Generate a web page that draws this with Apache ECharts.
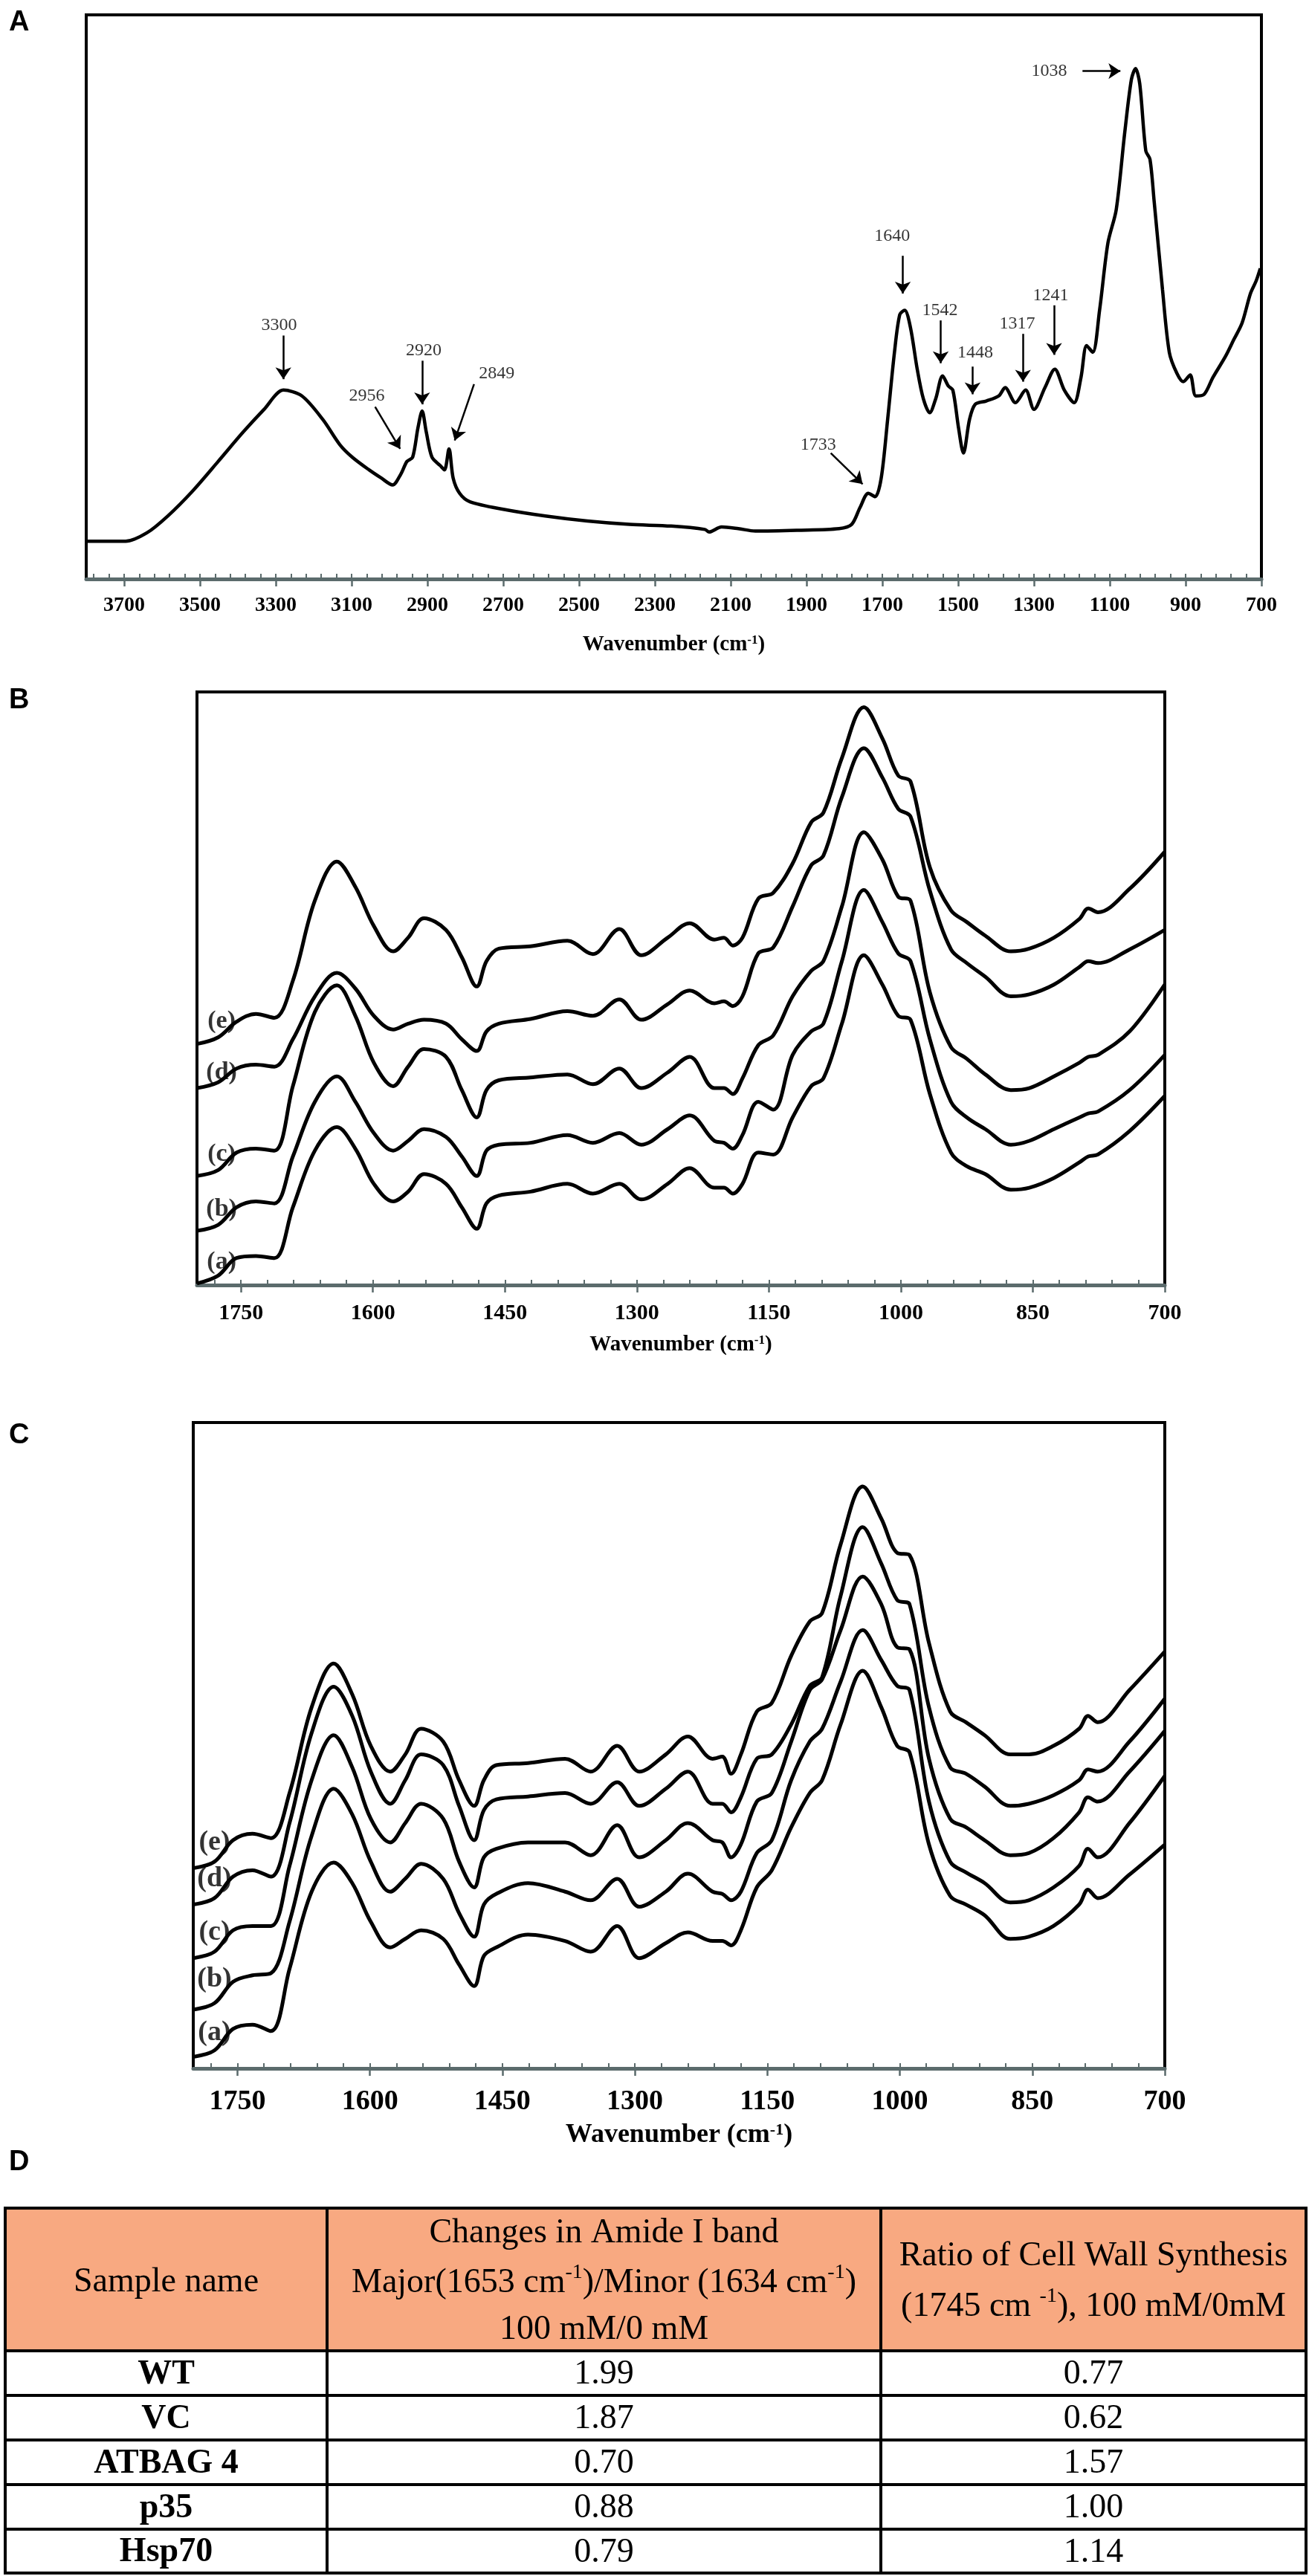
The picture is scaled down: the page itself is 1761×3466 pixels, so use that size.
<!DOCTYPE html>
<html><head><meta charset="utf-8">
<script src="https://cdn.jsdelivr.net/npm/echarts@6/dist/echarts.min.js"></script>
<style>html,body{margin:0;padding:0;background:#fff}#chart{width:1761px;height:3466px}</style>
</head><body><div id="chart"></div>
<script>
// ---------- Panel A: full FTIR spectrum ----------
const wnA = [3800,3696,3640,3585,3519,3452,3386,3331,3280,3231,
  3176,3131,3098,3054,3021,2992,2970,2954,2939,2925,
  2914,2903,2888,2866,2855,2843,2832,2815,2788,2700,
  2589,2478,2367,2257,2168,2157,2124,2080,2035,1925,
  1814,1781,1759,1737,1719,1703,1686,1668,1654,1641,
  1626,1608,1592,1575,1559,1541,1526,1514,1499,1486,
  1470,1455,1426,1393,1376,1349,1322,1300,1271,1245,
  1220,1194,1176,1161,1145,1127,1105,1083,1061,1043,
  1032,1021,1005,994,983,961,943,923,906,888,
  873,851,828,795,773,751,729,714,703];
const absA = [45,45,55,75,105,140,175,202,225,218,
  190,160,145,130,120,112,125,140,145,180,
  200,175,145,135,130,155,120,102,92,83,
  75,69,65,63,59,56,62,60,57,58,
  60,65,85,102,98,120,190,270,315,320,
  300,250,215,198,215,242,230,225,180,150,
  190,208,212,218,228,210,225,202,228,250,
  225,210,240,278,270,320,400,440,530,595,
  608,590,510,500,450,345,270,245,235,243,
  218,220,240,265,285,305,340,355,370];
const peakLabelsA = ['3300','2956','2920','2849','1733','1640','1542','1448','1317','1241','1038'];
const peakTextPosA = [[3291,302],[3060,218],[2910,272],[2717,245],[1869,160],[1674,408],[1548,320],[1455,269],[1344,304],[1256,338],[1260,605]];
const peakArrowA = [[3280,290,3280,238],[3038,205,2972,155],[2914,260,2914,208],[2777,232,2828,165],[1836,150,1752,113],
  [1646,385,1646,340],[1546,308,1546,257],[1462,253,1462,220],[1329,292,1329,235],[1247,326,1247,267],[1172,605,1072,605]];
const xTicksA = [3700,3500,3300,3100,2900,2700,2500,2300,2100,1900,1700,1500,1300,1100,900,700];

// ---------- Panels B and C: fingerprint region ----------
const wnBC = [1800,1776,1755,1733,1712,1691,1666,1641,1620,1599,
  1577,1560,1542,1517,1499,1482,1471,1457,1421,1379,
  1350,1320,1295,1265,1240,1212,1201,1191,1180,1162,
  1145,1123,1102,1088,1067,1042,1021,1003,989,967,
  943,925,904,875,854,826,797,787,776,740,700];
const absB_a = [4,24,69,74,69,199,344,404,349,259,214,239,284,259,199,144,209,229,239,259,234,259,219,259,299,249,249,234,259,339,334,429,509,529,669,844,769,689,679,489,339,304,284,244,249,274,314,329,334,394,484];
const absB_b = [139,154,199,214,209,329,469,534,469,389,344,369,399,379,329,279,344,359,364,384,364,389,359,399,434,369,364,349,384,469,449,589,649,669,829,1011,929,849,829,629,469,429,399,359,369,399,429,439,444,499,589];
const absB_c = [279,294,339,349,344,509,699,767,689,569,509,559,604,584,499,429,499,524,531,539,514,554,504,544,584,504,504,489,529,614,639,739,804,829,969,1159,1089,994,984,749,609,579,539,499,504,534,569,584,589,649,769];
const absB_d = [504,519,554,564,559,629,739,799,759,689,654,669,679,669,629,599,649,669,681,701,689,731,679,719,754,721,726,714,739,849,864,969,1074,1099,1249,1374,1299,1219,1199,1009,859,824,789,739,744,769,814,829,824,859,909];
const absB_e = [617,634,674,694,684,779,984,1084,1019,919,854,889,939,909,839,764,829,861,867,881,847,911,844,889,926,884,889,869,889,989,1004,1079,1184,1209,1349,1479,1399,1304,1289,1069,959,929,894,854,861,889,937,964,954,1014,1109];
const absC_a = [27,42,92,102,87,232,412,480,432,342,282,302,322,302,242,192,262,282,312,297,272,332,257,292,317,297,297,287,322,422,462,562,642,672,802,927,842,752,737,522,402,382,357,302,307,332,382,417,397,452,522];
const absC_b = [137,152,202,217,222,342,542,652,592,482,412,442,477,442,362,307,382,407,432,412,392,442,377,412,454,412,407,392,412,502,532,672,762,792,902,1022,952,892,882,622,482,457,432,387,392,422,472,512,492,572,682];
const absC_c = [257,272,322,332,332,472,672,777,702,582,527,572,617,582,482,422,492,512,527,527,497,567,492,532,572,532,527,492,522,622,642,762,882,907,1022,1147,1082,982,977,722,582,562,532,497,502,537,597,632,622,692,787];
const absC_d = [382,397,447,462,447,572,782,890,822,692,617,672,732,707,612,532,602,627,634,642,617,667,612,652,692,617,617,597,632,722,732,802,892,912,1102,1262,1177,1092,1082,842,702,687,657,612,617,637,672,697,692,762,862];
const absC_e = [467,482,532,547,537,642,842,944,872,752,692,732,792,762,672,612,672,707,712,722,692,752,692,732,774,722,727,687,732,832,852,962,1042,1062,1222,1357,1282,1202,1197,992,832,807,777,732,732,752,792,822,807,882,972];
const curveNames = ['(a)','(b)','(c)','(d)','(e)'];
const curveLabelPosB = [[1772,59],[1772,194],[1772,334],[1772,544],[1772,674]];
const curveLabelPosC = [[1776,82],[1776,207],[1776,317],[1776,442],[1776,527]];
const xTicksBC = [1750,1600,1450,1300,1150,1000,850,700];

// ---------- Panel D: table ----------
const headerSample = ['Sample name'];
const headerAmide = ['Changes in Amide I band','Major(1653 cm{s|-1})/Minor (1634 cm{s|-1})','100 mM/0 mM'];
const headerWall = ['Ratio of Cell Wall Synthesis','(1745 cm {s|-1}), 100 mM/0mM'];
const sampleNames = ['WT','VC','ATBAG 4','p35','Hsp70'];
const amideRatio = ['1.99','1.87','0.70','0.88','0.79'];
const cellWallRatio = ['0.77','0.62','1.57','1.00','1.14'];

// ---------- helpers ----------
const SERIF = 'Liberation Serif';
const AXIS_GRAY = '#5b6b6c';
function pairs(xs, ys){ return xs.map((x,i)=>[x, ys[i]]); }
function steps(from, to, step){ const out=[]; for(let v=from; v<=to; v+=step) out.push(v); return out; }

function mainX(gi, min, max, majors, labelSize, nameSize, margin, gap){
  return {gridIndex:gi, type:'value', min:min, max:max, inverse:true, position:'bottom',
    axisLine:{show:true, onZero:false, lineStyle:{color:AXIS_GRAY, width:5}},
    axisTick:{show:true, customValues:majors, inside:false, length:10, lineStyle:{color:AXIS_GRAY, width:2.5}},
    axisLabel:{show:true, customValues:majors, margin:margin, color:'#000', fontFamily:SERIF, fontWeight:'bold', fontSize:labelSize,
      formatter:function(v){ return String(v); }},
    splitLine:{show:false},
    name:'Wavenumber (cm{s|-1})', nameLocation:'middle', nameGap:gap,
    nameTextStyle:{color:'#000', fontFamily:SERIF, fontWeight:'bold', fontSize:nameSize,
      rich:{s:{color:'#000', fontFamily:SERIF, fontWeight:'bold', fontSize:Math.round(nameSize*0.6), verticalAlign:'top'}}}
  };
}
function minorX(gi, min, max, minors){
  return {gridIndex:gi, type:'value', min:min, max:max, inverse:true, position:'bottom',
    axisLine:{show:false}, axisTick:{show:true, customValues:minors, inside:true, length:7, lineStyle:{color:AXIS_GRAY, width:2}},
    axisLabel:{show:false}, splitLine:{show:false}};
}
function curveSeries(xi, yi, arrs, width){
  return arrs.map((arr,i)=>({name:curveNames[i], type:'line', xAxisIndex:xi, yAxisIndex:yi, data:pairs(wnBC, arr),
    showSymbol:false, smooth:0.35, lineStyle:{color:'#000', width:width}, z:3, silent:true}));
}
function labelSeries(xi, yi, pos, size){
  return {type:'scatter', xAxisIndex:xi, yAxisIndex:yi, symbolSize:1, itemStyle:{color:'transparent'}, silent:true, z:5,
    data:curveNames.map((n,i)=>({name:n, value:pos[i]})),
    label:{show:true, position:'inside', formatter:'{b}', color:'#000', fontFamily:SERIF, fontWeight:'bold', fontSize:size}};
}

const grids = [
  {left:116, top:20, width:1581, height:759},
  {left:265, top:931, width:1302, height:798},
  {left:260, top:1914, width:1307, height:869}
].map(g=>Object.assign(g, {show:true, borderColor:'#000', borderWidth:4, backgroundColor:'rgba(0,0,0,0)', containLabel:false}));

// ---------- table graphics ----------
const colX = [7,440,1185,1757];
const rowY = [2971,3163,3223,3283,3343,3403,3462];
const TF = 46;
const tableEls = [];
tableEls.push({type:'rect', shape:{x:colX[0], y:rowY[0], width:colX[3]-colX[0], height:rowY[1]-rowY[0]}, style:{fill:'#f8a981'}, z:1});
rowY.forEach(y=>tableEls.push({type:'line', shape:{x1:colX[0]-2, y1:y, x2:colX[3]+2, y2:y}, style:{stroke:'#000', lineWidth:4}, z:3}));
colX.forEach(x=>tableEls.push({type:'line', shape:{x1:x, y1:rowY[0], x2:x, y2:rowY[rowY.length-1]}, style:{stroke:'#000', lineWidth:4}, z:3}));
function cellText(txt, cx, cy, bold){
  return {type:'text', x:cx, y:cy, z:4, style:{text:txt, fill:'#000', font:(bold?'bold ':'')+TF+'px "'+SERIF+'"',
    textAlign:'center', textVerticalAlign:'middle', align:'center', verticalAlign:'middle',
    rich:{s:{fill:'#000', font:Math.round(TF*0.6)+'px "'+SERIF+'"', verticalAlign:'top', lineHeight:TF+10}}}};
}
const c1 = (colX[0]+colX[1])/2, c2 = (colX[1]+colX[2])/2, c3 = (colX[2]+colX[3])/2;
tableEls.push(cellText(headerSample[0], c1, 3071, false));
[3005,3072,3135].forEach((y,i)=>tableEls.push(cellText(headerAmide[i], c2, y, false)));
[3036,3104].forEach((y,i)=>tableEls.push(cellText(headerWall[i], c3, y, false)));
sampleNames.forEach((n,i)=>{
  const cy = (rowY[i+1]+rowY[i+2])/2 + 2;
  tableEls.push(cellText(n, c1, cy, true));
  tableEls.push(cellText(amideRatio[i], c2, cy, false));
  tableEls.push(cellText(cellWallRatio[i], c3, cy, false));
});
const panelLetters = [['A',31],['B',943],['C',1932],['D',2910]];
panelLetters.forEach(p=>tableEls.push({type:'text', x:12, y:p[1], z:4, style:{text:p[0], fill:'#000', font:'bold 38px "Liberation Sans"', textVerticalAlign:'middle', verticalAlign:'middle'}}));

const option = {
  animation:false,
  backgroundColor:'#fff',
  grid: grids,
  xAxis: [
    mainX(0, 700, 3800, xTicksA, 28, 29, 22, 74),
    minorX(0, 700, 3800, steps(740, 3780, 40)),
    mainX(1, 700, 1800, xTicksBC, 30, 29, 23, 66),
    minorX(1, 700, 1800, steps(730, 1780, 30)),
    mainX(2, 700, 1800, xTicksBC, 38, 36, 26, 72),
    minorX(2, 700, 1800, steps(730, 1780, 30))
  ],
  yAxis: [
    {gridIndex:0, type:'value', min:0, max:672, show:false},
    {gridIndex:1, type:'value', min:0, max:1518, show:false},
    {gridIndex:2, type:'value', min:0, max:1506, show:false}
  ],
  series: [
    {name:'FTIR', type:'line', xAxisIndex:0, yAxisIndex:0, data:pairs(wnA, absA), showSymbol:false, smooth:0.3,
      lineStyle:{color:'#000', width:4.5}, z:3, silent:true,
      markLine:{silent:true, symbol:['none','arrow'], symbolSize:16, animation:false,
        lineStyle:{color:'#000', width:2.5, type:'solid'}, label:{show:false}, emphasis:{disabled:true},
        data: peakArrowA.map(a=>[{coord:[a[0],a[1]]},{coord:[a[2],a[3]]}])}},
    {type:'scatter', xAxisIndex:0, yAxisIndex:0, symbolSize:1, itemStyle:{color:'transparent'}, silent:true, z:5,
      data: peakLabelsA.map((t,i)=>({name:t, value:peakTextPosA[i]})),
      label:{show:true, position:'inside', formatter:'{b}', color:'#000', fontFamily:SERIF, fontSize:24}},
    ...curveSeries(2, 1, [absB_a, absB_b, absB_c, absB_d, absB_e], 5),
    labelSeries(2, 1, curveLabelPosB, 34),
    ...curveSeries(4, 2, [absC_a, absC_b, absC_c, absC_d, absC_e], 5),
    labelSeries(4, 2, curveLabelPosC, 38)
  ],
  graphic: {elements: tableEls}
};
const chart = echarts.init(document.getElementById('chart'));
chart.setOption(option);
</script>
</body></html>
